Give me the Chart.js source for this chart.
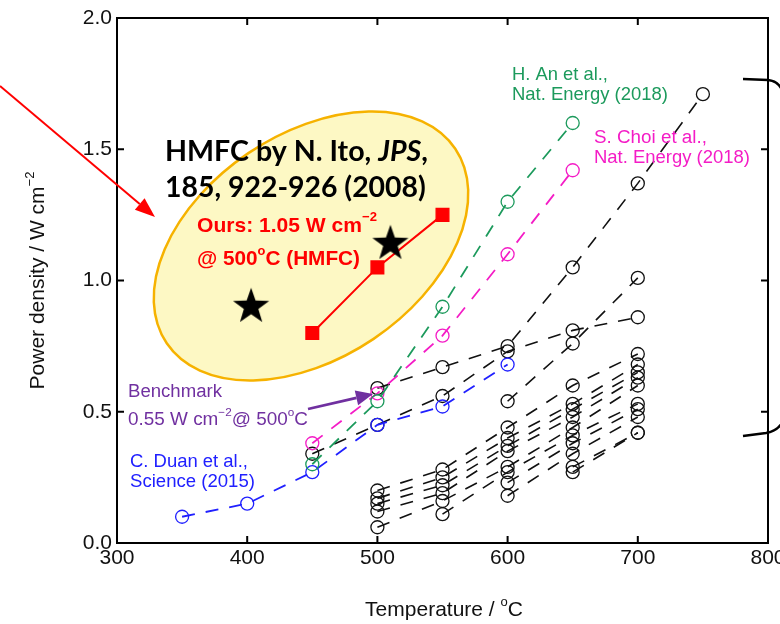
<!DOCTYPE html>
<html>
<head>
<meta charset="utf-8">
<script src="https://cdn.jsdelivr.net/npm/chart.js@4.4.1/dist/chart.umd.min.js"></script>
<style>
  html, body { margin: 0; padding: 0; background: #fff; overflow: hidden; }
  #wrap { width: 780px; height: 624px; position: relative; }
</style>
</head>
<body>
<div id="wrap"><canvas id="chart"></canvas></div>
<script>
// ---- data (temperature in degC, power density in W cm-2) ----
const xTicks = [300, 400, 500, 600, 700, 800];
const yTicks = [0.0, 0.5, 1.0, 1.5, 2.0];

const tempDuan = [350, 400, 450, 500, 550, 600];
const pdDuan = [0.10, 0.15, 0.27, 0.45, 0.52, 0.68];

const tempAn = [450, 500, 550, 600, 650];
const pdAn = [0.30, 0.54, 0.90, 1.30, 1.60];

const tempChoi = [450, 500, 550, 600, 650];
const pdChoi = [0.38, 0.57, 0.79, 1.10, 1.42];

const tempOurs = [450, 500, 550];
const pdOurs = [0.80, 1.05, 1.25];

const tempIto = [403, 510];
const pdIto = [0.90, 1.14];

// other reported cells (black), one value per temperature, null = not measured
const tempOthers = [450, 500, 550, 600, 650, 700, 750];
const other1 = [null, 0.59, 0.67, 0.75, 1.05, 1.37, 1.71];
const other2 = [0.34, 0.45, 0.56, 0.73, 0.81, 0.86, null];
const other3 = [null, null, null, 0.54, 0.76, 1.01, null];
const other4 = [null, 0.20, 0.28, 0.44, 0.60, 0.72, null];
const other5 = [null, 0.17, 0.25, 0.40, 0.53, 0.68, null];
const other6 = [null, 0.15, 0.22, 0.37, 0.51, 0.65, null];
const other7 = [null, 0.12, 0.19, 0.35, 0.48, 0.63, null];
const other8 = [null, 0.06, 0.16, 0.29, 0.44, 0.60, null];
const other9 = [null, null, 0.11, 0.27, 0.41, 0.53, null];
const other10 = [null, null, null, 0.23, 0.38, 0.51, null];
const other11 = [null, null, null, 0.18, 0.34, 0.48, null];
const other12 = [null, null, null, null, 0.29, 0.42, null];
const other13 = [null, null, null, null, 0.27, 0.42, null];
const otherSeries = [other1, other2, other3, other4, other5, other6, other7,
  other8, other9, other10, other11, other12, other13];

const SANS = 'Arial, "Liberation Sans", sans-serif';
const CAL = 'Lato, "Open Sans", sans-serif';
const BLUE = '#2020ff';
const GREEN = '#1c9a5c';
const MAGENTA = '#f41cc6';
const PURPLE = '#7030a0';
const RED = '#ff0000';

function pts(xs, ys) {
  const out = [];
  for (let i = 0; i < xs.length; i++) {
    if (ys[i] != null) out.push({ x: xs[i], y: ys[i] });
  }
  return out;
}

function makeStar(r) {
  const c = document.createElement('canvas');
  c.width = c.height = Math.ceil(r * 2 + 2);
  const g = c.getContext('2d');
  const cx = c.width / 2, cy = c.height / 2;
  g.beginPath();
  for (let i = 0; i < 10; i++) {
    const rad = i % 2 === 0 ? r : r * 0.4;
    const a = -Math.PI / 2 + i * Math.PI / 5;
    g.lineTo(cx + rad * Math.cos(a), cy + rad * Math.sin(a));
  }
  g.closePath();
  g.fillStyle = '#000';
  g.fill();
  return c;
}

function series(data, color, extra) {
  return Object.assign({
    type: 'line',
    data,
    showLine: true,
    borderColor: color,
    borderWidth: 1.8,
    borderDash: [13, 11],
    pointStyle: 'circle',
    pointRadius: 6.5,
    pointBorderWidth: 1.3,
    pointBorderColor: color,
    pointBackgroundColor: 'rgba(0,0,0,0)',
    fill: false,
  }, extra || {});
}

// runs: list of [text, kind] where kind is '', 'sup' or 'it'
function drawRuns(ctx, runs, x, y, size, weight, family, measureOnly) {
  let cx = x;
  for (const r of runs) {
    const t = r[0], kind = r[1] || '';
    const s = kind === 'sup' ? size * 0.62 : size;
    const dy = kind === 'sup' ? -size * 0.5 : 0;
    ctx.font = `${kind === 'it' ? 'italic ' : ''}${weight} ${s}px ${family}`;
    if (!measureOnly) ctx.fillText(t, cx, y + dy);
    cx += ctx.measureText(t).width;
  }
  return cx - x;
}

function fitText(ctx, runs, x, y, targetW, weight, family, color) {
  const w100 = drawRuns(ctx, runs, 0, 0, 100, weight, family, true);
  const size = 100 * targetW / w100;
  ctx.fillStyle = color;
  drawRuns(ctx, runs, x, y, size, weight, family, false);
}

function arrow(ctx, x0, y0, x1, y1, color, lw, headLen, headW) {
  const a = Math.atan2(y1 - y0, x1 - x0);
  const bx = x1 - headLen * Math.cos(a), by = y1 - headLen * Math.sin(a);
  ctx.strokeStyle = color;
  ctx.fillStyle = color;
  ctx.lineWidth = lw;
  ctx.beginPath();
  ctx.moveTo(x0, y0);
  ctx.lineTo(bx, by);
  ctx.stroke();
  ctx.beginPath();
  ctx.moveTo(x1, y1);
  ctx.lineTo(bx + headW / 2 * Math.sin(a), by - headW / 2 * Math.cos(a));
  ctx.lineTo(bx - headW / 2 * Math.sin(a), by + headW / 2 * Math.cos(a));
  ctx.closePath();
  ctx.fill();
}

const ellipsePlugin = {
  id: 'ellipse',
  beforeDatasetsDraw(chart) {
    const ctx = chart.ctx;
    ctx.save();
    ctx.beginPath();
    ctx.ellipse(311, 246, 174, 112, -34 * Math.PI / 180, 0, Math.PI * 2);
    ctx.fillStyle = '#fdf8c4';
    ctx.fill();
    ctx.lineWidth = 2.5;
    ctx.strokeStyle = '#f6b200';
    ctx.stroke();
    ctx.restore();
  },
};

const framePlugin = {
  id: 'frame',
  afterDraw(chart) {
    const ctx = chart.ctx;
    const { left, right, top, bottom } = chart.chartArea;
    const xs = chart.scales.x, ys = chart.scales.y;
    ctx.save();
    ctx.strokeStyle = '#000';
    ctx.lineWidth = 2;
    ctx.strokeRect(left, top, right - left, bottom - top);
    ctx.beginPath();
    for (const v of xTicks.slice(1, -1)) {
      const px = xs.getPixelForValue(v);
      ctx.moveTo(px, bottom); ctx.lineTo(px, bottom - 7);
      ctx.moveTo(px, top); ctx.lineTo(px, top + 7);
    }
    for (const v of yTicks.slice(1, -1)) {
      const py = ys.getPixelForValue(v);
      ctx.moveTo(left, py); ctx.lineTo(left + 7, py);
      ctx.moveTo(right, py); ctx.lineTo(right - 7, py);
    }
    ctx.stroke();

    // axis titles
    ctx.fillStyle = '#111';
    ctx.textBaseline = 'alphabetic';
    const xt = [['Temperature / '], ['o', 'sup'], ['C']];
    const wx = drawRuns(ctx, xt, 0, 0, 21, '', SANS, true);
    drawRuns(ctx, xt, 444 - wx / 2, 616, 21, '', SANS, false);

    const yt = [['Power density / W cm'], ['\u22122', 'sup']];
    const wy = drawRuns(ctx, yt, 0, 0, 21, '', SANS, true);
    ctx.translate(44, (top + bottom) / 2);
    ctx.rotate(-Math.PI / 2);
    drawRuns(ctx, yt, -wy / 2, 0, 21, '', SANS, false);
    ctx.restore();

    // annotations
    ctx.save();
    ctx.textBaseline = 'alphabetic';
    fitText(ctx, [['HMFC by N. Ito, '], ['JPS', 'it'], [',']], 165, 161, 263, 'bold', CAL, '#000');
    fitText(ctx, [['185, 922-926 (2008)']], 165, 197, 261, 'bold', CAL, '#000');
    fitText(ctx, [['Ours: 1.05 W cm'], ['\u22122', 'sup']], 197, 232, 180, 'bold', SANS, RED);
    fitText(ctx, [['@ 500'], ['o', 'sup'], ['C (HMFC)']], 197, 265, 163, 'bold', SANS, RED);
    fitText(ctx, [['Benchmark']], 128, 397, 94, '', SANS, PURPLE);
    fitText(ctx, [['0.55 W cm'], ['\u22122', 'sup'], ['@ 500'], ['o', 'sup'], ['C']], 128, 425, 180, '', SANS, PURPLE);
    fitText(ctx, [['C. Duan et al.,']], 130, 467, 118, '', SANS, BLUE);
    fitText(ctx, [['Science (2015)']], 130, 487, 125, '', SANS, BLUE);
    fitText(ctx, [['H. An et al.,']], 512, 80, 96, '', SANS, GREEN);
    fitText(ctx, [['Nat. Energy (2018)']], 512, 100, 156, '', SANS, GREEN);
    fitText(ctx, [['S. Choi et al.,']], 594, 143, 113, '', SANS, MAGENTA);
    fitText(ctx, [['Nat. Energy (2018)']], 594, 163, 156, '', SANS, MAGENTA);

    arrow(ctx, 0, 86, 155, 217, RED, 2, 20, 15);
    arrow(ctx, 308, 409, 373, 394, PURPLE, 2.8, 17, 15);

    // partial braces on the right edge
    ctx.strokeStyle = '#000';
    ctx.lineWidth = 2.5;
    ctx.beginPath();
    ctx.moveTo(743, 79);
    ctx.lineTo(768, 80);
    ctx.quadraticCurveTo(778, 81, 782, 90);
    ctx.moveTo(743, 436);
    ctx.lineTo(766, 433);
    ctx.quadraticCurveTo(777, 431, 782, 423);
    ctx.stroke();
    ctx.restore();
  },
};

const datasets = [];
datasets.push({
  type: 'line',
  data: pts(tempIto, pdIto),
  showLine: false,
  pointStyle: makeStar(19),
  pointRadius: 19,
});
datasets.push(series(pts(tempOurs, pdOurs), RED, {
  borderDash: [],
  borderWidth: 2,
  pointStyle: 'rect',
  pointRadius: 9,
  pointBackgroundColor: RED,
}));
datasets.push(series(pts(tempAn, pdAn), GREEN));
datasets.push(series(pts(tempChoi, pdChoi), MAGENTA));
datasets.push(series(pts(tempDuan, pdDuan), BLUE));
for (const s of otherSeries) {
  datasets.push(series(pts(tempOthers, s), '#111', { borderWidth: 1.6 }));
}

new Chart(document.getElementById('chart'), {
  type: 'scatter',
  data: { datasets },
  options: {
    responsive: true,
    maintainAspectRatio: false,
    animation: false,
    layout: { autoPadding: false, padding: { left: 0, right: 12, top: 18, bottom: 0 } },
    plugins: { legend: { display: false }, tooltip: { enabled: false } },
    scales: {
      x: {
        type: 'linear',
        min: 300,
        max: 800,
        afterBuildTicks: (s) => { s.ticks = xTicks.map((v) => ({ value: v })); },
        ticks: { color: '#111', font: { family: SANS, size: 21 }, padding: 3, maxRotation: 0 },
        grid: { drawOnChartArea: false, drawTicks: false },
        border: { display: false },
        afterFit: (s) => { s.height = 81; s.paddingLeft = 0; s.paddingRight = 0; },
      },
      y: {
        min: 0,
        max: 2,
        afterBuildTicks: (s) => { s.ticks = yTicks.map((v) => ({ value: v })); },
        ticks: {
          color: '#111',
          font: { family: SANS, size: 21 },
          padding: 5,
          callback: (v) => Number(v).toFixed(1),
        },
        grid: { drawOnChartArea: false, drawTicks: false },
        border: { display: false },
        afterFit: (s) => { s.width = 117; s.paddingTop = 0; s.paddingBottom = 0; },
      },
    },
  },
  plugins: [ellipsePlugin, framePlugin],
});
</script>
</body>
</html>
